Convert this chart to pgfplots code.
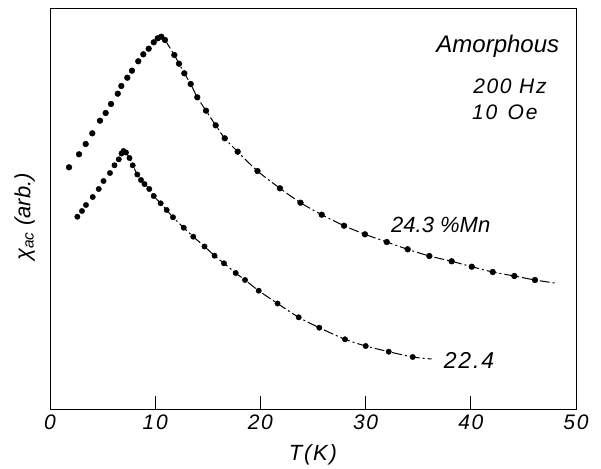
\documentclass[border=0pt]{standalone}
\usepackage{fontspec}
\setmainfont{Liberation Sans}
\usepackage{pgfplots}
\pgfplotsset{compat=1.18}
\pgfplotstableread{
T y
1.81 241.7
2.76 254.7
3.39 265
4.02 275.7
4.75 288.3
5.29 296
5.80 305
6.44 315.3
6.78 323
7.35 331.3
7.79 338.3
8.39 347.7
8.87 354.7
9.38 360.3
9.86 366.7
10.24 370.7
10.58 372.3
10.93 369
11.82 354
12.26 345.3
12.77 335.7
13.37 325
14.00 311.7
14.83 298.3
15.75 283.7
16.61 270.7
17.84 257.3
19.72 238
21.86 220.7
23.81 206.3
25.83 194.3
27.95 183.3
29.94 174.7
32.01 167
34.00 159.7
36.06 153
38.18 147.7
40.09 142.3
42.08 137
44.14 133
46.10 129
}\seriesA
\pgfplotstableread{
T y
10.93 369
11.82 354
12.26 345.3
12.77 335.7
13.37 325
14.00 311.7
14.83 298.3
15.75 283.7
16.61 270.7
17.84 257.3
19.72 238
21.86 220.7
23.81 206.3
25.83 194.3
27.95 183.3
29.94 174.7
32.01 167
34.00 159.7
36.06 153
38.18 147.7
40.09 142.3
42.08 137
44.14 133
46.10 129
48.17 125.7
}\fitA
\pgfplotstableread{
T y
2.60 192.3
3.04 198
3.42 204
4.06 212
4.63 220
5.09 228
5.70 236
6.13 243.7
6.54 249.7
6.80 255.5
6.99 258
7.22 256.5
7.56 251
7.86 243.7
8.30 234.5
8.65 229
8.98 225
9.44 220
9.86 213
10.52 205.7
11.09 199
11.69 191.7
12.71 181.3
13.62 172.3
14.69 162.5
15.64 153.3
16.54 145.7
17.65 136
18.54 129
19.84 118.3
21.63 105.5
23.64 91.7
25.60 81.3
28.04 69.7
30.01 63
32.20 57.3
34.48 52
}\seriesB
\pgfplotstableread{
T y
7.22 256.5
7.56 251
7.86 243.7
8.30 234.5
8.65 229
8.98 225
9.44 220
9.86 213
10.52 205.7
11.09 199
11.69 191.7
12.71 181.3
13.62 172.3
14.69 162.5
15.64 153.3
16.54 145.7
17.65 136
18.54 129
19.84 118.3
21.63 105.5
23.64 91.7
25.60 81.3
28.04 69.7
30.01 63
32.20 57.3
34.48 52
36.28 50
}\fitB
\newfontfamily\wide[LetterSpace=8]{Liberation Sans}
\begin{document}
\begin{tikzpicture}
\begin{axis}[
  scale only axis, width=526pt, height=400pt,
  xmin=0, xmax=50, ymin=0, ymax=400,
  xtick={0,10,...,50}, ytick=\empty,
  xtick pos=left, tick align=inside, major tick length=13pt,
  axis line style={line width=1pt},
  every tick/.style={line width=1pt, black},
  /pgf/number format/assume math mode=true,
  x tick label style={font=\fontsize{21}{25}\selectfont\wide\itshape, yshift=-2pt},
  xlabel={T(K)},
  xlabel style={font=\fontsize{22}{26}\selectfont\wide\itshape, yshift=-8pt},
  ylabel={χ\textsubscript{ac} (arb.)},
  ylabel style={font=\fontsize{22}{26}\selectfont\itshape, at={(axis description cs:-0.048,0.48)}, anchor=center},
  clip=false,
]
\addplot[black, line width=1pt, smooth, dash pattern=on 10pt off 3pt on 2pt off 3pt] table[x=T,y=y]{\fitA};
\addplot[black, line width=1pt, smooth, dash pattern=on 10pt off 3pt on 2pt off 3pt] table[x=T,y=y]{\fitB};
\addplot[only marks, mark=*, mark size=2.9pt, black] table[x=T,y=y]{\seriesA};
\addplot[only marks, mark=*, mark size=2.7pt, black] table[x=T,y=y]{\seriesB};
\node[anchor=base west, font=\fontsize{24}{28}\selectfont\itshape] at (axis cs:36.4,356) {Amorphous};
\node[anchor=base west, font=\fontsize{21}{24}\selectfont\wide\itshape] at (axis cs:39.9,315) {200 Hz};
\node[anchor=base west, font=\fontsize{21}{24}\selectfont\wide\itshape] at (axis cs:39.8,289) {10\enspace Oe};
\node[anchor=base west, font=\fontsize{22}{26}\selectfont\itshape] at (axis cs:32.1,176) {24.3 \%Mn};
\node[anchor=base west, font=\fontsize{23}{27}\selectfont\wide\itshape] at (axis cs:37.1,41) {22.4};
\end{axis}
\pgfresetboundingbox
\path[use as bounding box] ([shift={(-50pt,-59pt)}]current axis.south west) rectangle ([shift={(25pt,9pt)}]current axis.north east);
\end{tikzpicture}
\end{document}
